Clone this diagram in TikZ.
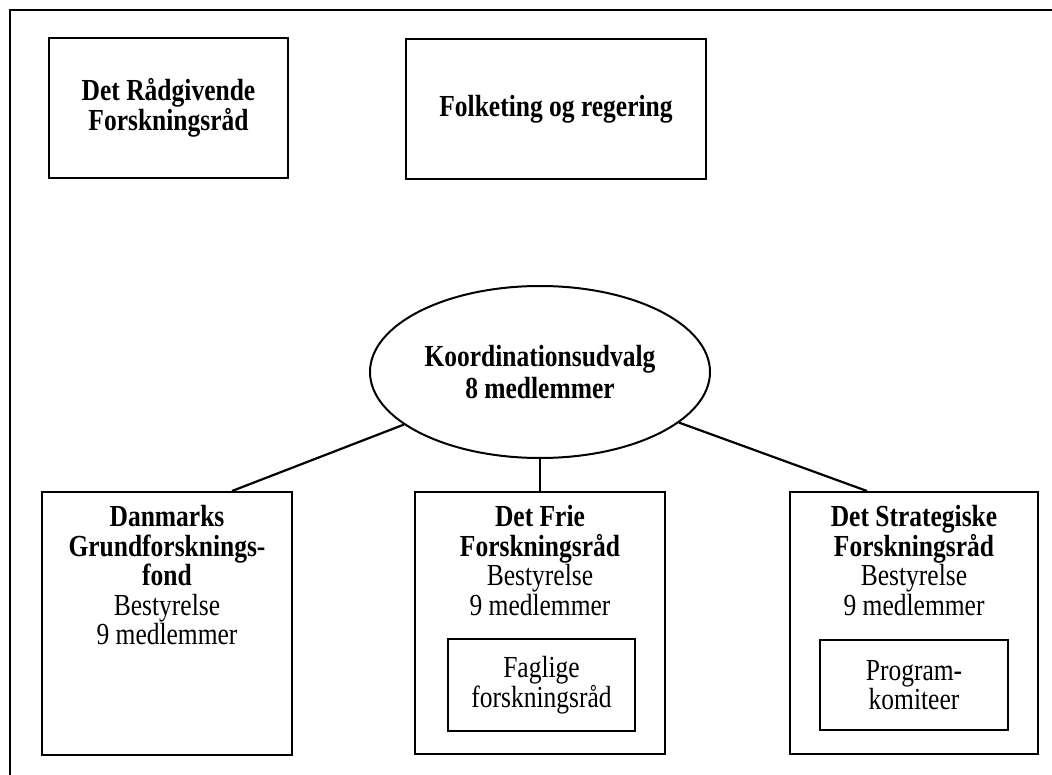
\documentclass[tikz,border=0pt]{standalone}
\usepackage{graphicx}
\usepackage{fontspec}
\setmainfont{Liberation Serif}
\usetikzlibrary{positioning,shapes.geometric}
\newcommand{\tallline}[1]{\scalebox{1}[1.2]{#1}}

\begin{document}
\begin{tikzpicture}[x=1pt, y=-1pt, thick,
		main/.style={draw, line width=2pt, inner sep=0pt, align=center, font=\fontsize{25.5}{29.5}\selectfont},
		txt/.style={align=center, inner sep=0pt, font=\fontsize{25.5}{29.5}\selectfont},
		link/.style={line width=2.2pt}]
		\useasboundingbox (0,0) rectangle (1052,775);
		\draw[line width=2.3pt] (10,775) -- (10,10) -- (1052,10);

		\node[main, minimum width=239pt, minimum height=140pt] (raad) at (168.5,108) {\tallline{\textbf{Det Rådgivende}}\\\tallline{\textbf{Forskningsråd}}};
		\node[main, minimum width=300pt, minimum height=140pt] (folk) at (556,109) {\tallline{\textbf{Folketing og regering}}};
		\node[main, ellipse, minimum width=340pt, minimum height=172pt] (koord) at (540,372) {\tallline{\textbf{Koordinationsudvalg}}\\[3pt]\tallline{\textbf{8 medlemmer}}};

		\node[main, minimum width=250pt, minimum height=263pt] (danmarks) at (167,623.5) {};
		\node[main, minimum width=250pt, minimum height=262pt] (frie) at (540,623) {};
		\node[main, minimum width=248pt, minimum height=262pt] (strat) at (914,623) {};

		\node[txt, below=14pt of danmarks.north] (danmarkstxt) {\tallline{\textbf{Danmarks}}\\\tallline{\textbf{Grundforsknings-}}\\\tallline{\textbf{fond}}\\\tallline{Bestyrelse}\\\tallline{9 medlemmer}};
		\node[txt, below=14pt of frie.north] (frietxt) {\tallline{\textbf{Det Frie}}\\\tallline{\textbf{Forskningsråd}}\\\tallline{Bestyrelse}\\\tallline{9 medlemmer}};
		\node[txt, below=14pt of strat.north] (strattxt) {\tallline{\textbf{Det Strategiske}}\\\tallline{\textbf{Forskningsråd}}\\\tallline{Bestyrelse}\\\tallline{9 medlemmer}};

		\node[main, minimum width=187pt, minimum height=92pt] (faglige) at (541.5,685) {\tallline{Faglige}\\\tallline{forskningsråd}};
		\node[main, minimum width=188pt, minimum height=90pt] (program) at (914,685) {\tallline{Program-}\\\tallline{komiteer}};

		\coordinate (dtop) at ([xshift=65pt]danmarks.north);
		\coordinate (stop) at ([xshift=-47pt]strat.north);

		\draw[link] (koord) -- (dtop);
		\draw[link] (koord) -- (frie);
		\draw[link] (koord) -- (stop);
	\end{tikzpicture}
\end{document}
